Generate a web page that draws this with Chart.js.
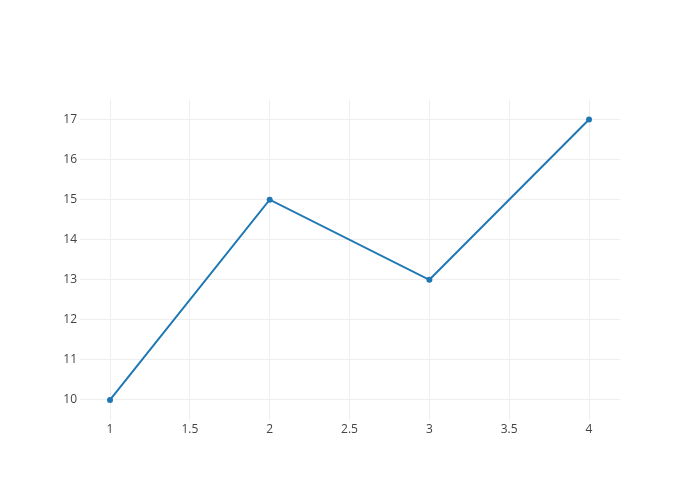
<!DOCTYPE html>
<html lang="en">
<head>
    <meta charset="UTF-8">
    <title>Line chart</title>
    <script src="https://cdn.jsdelivr.net/npm/chart.js"></script>
    <style>
        html, body { margin: 0; padding: 0; background: #fff; }
        #wrap { width: 700px; height: 500px; }
    </style>
</head>
<body>
    <div id="wrap"><canvas id="myChart" width="700" height="500"></canvas></div>
    <script>
        const xValues = [1, 2, 3, 4];
        const yValues = [10, 15, 13, 17];
        const xTicks = [1, 1.5, 2, 2.5, 3, 3.5, 4];
        const yTicks = [10, 11, 12, 13, 14, 15, 16, 17];

        const points = xValues.map((x, i) => ({ x: x, y: yValues[i] }));

        Chart.defaults.font.family = '"Open Sans", sans-serif';
        Chart.defaults.font.size = 12;
        Chart.defaults.color = '#444';

        new Chart(document.getElementById('myChart'), {
            type: 'scatter',
            data: {
                datasets: [{
                    data: points,
                    showLine: true,
                    borderColor: '#1f77b4',
                    backgroundColor: '#1f77b4',
                    borderWidth: 2,
                    pointRadius: 3,
                    pointBorderWidth: 0,
                    pointHoverRadius: 3,
                    tension: 0
                }]
            },
            options: {
                responsive: false,
                animation: false,
                layout: { padding: { left: 0, top: 100, right: 80, bottom: 0 } },
                plugins: { legend: { display: false }, tooltip: { enabled: false } },
                scales: {
                    x: {
                        type: 'linear',
                        min: 0.812,
                        max: 4.194,
                        afterBuildTicks: s => { s.ticks = xTicks.map(v => ({ value: v })); },
                        afterFit: s => { s.height = 80; },
                        grid: { color: '#eee', lineWidth: 1, drawTicks: false },
                        border: { display: false },
                        ticks: { padding: 2, maxRotation: 0, callback: v => String(v) }
                    },
                    y: {
                        type: 'linear',
                        min: 9.5,
                        max: 17.487,
                        afterBuildTicks: s => { s.ticks = yTicks.map(v => ({ value: v })); },
                        afterFit: s => { s.width = 80; },
                        grid: { color: '#eee', lineWidth: 1, drawTicks: false },
                        border: { display: false },
                        ticks: { padding: 3, callback: v => String(v) }
                    }
                }
            }
        });
    </script>
</body>
</html>
